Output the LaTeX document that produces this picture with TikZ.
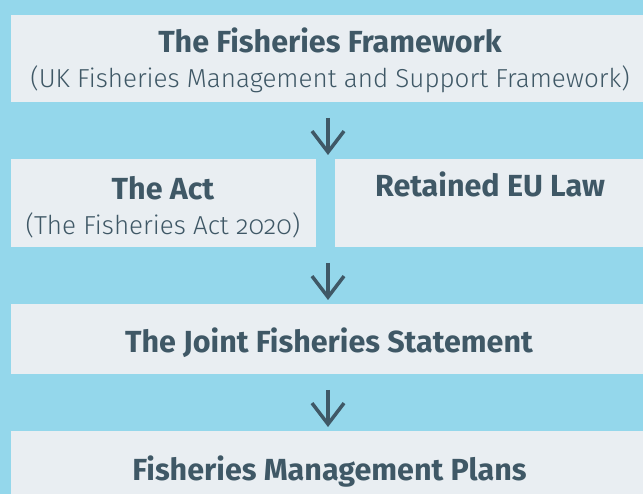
\documentclass[tikz,border=0pt]{standalone}
\usepackage{fontspec}
\setmainfont{Fira Sans}
\newfontfamily\lightfont[Numbers=OldStyle]{Fira Sans Light}
\usetikzlibrary{arrows.meta}
\definecolor{bgblue}{HTML}{94D7EB}
\definecolor{boxfill}{HTML}{E9EEF2}
\definecolor{ink}{HTML}{3F5866}
\tikzset{
  box/.style={fill=boxfill, draw=none, inner sep=0pt, anchor=north west},
  ttl/.style={text=ink, font=\bfseries\fontsize{30.5}{34}\selectfont, anchor=base, inner sep=0pt},
  sub/.style={text=ink, font=\lightfont\fontsize{26}{30}\selectfont, anchor=base, inner sep=0pt},
  flow/.style={draw=ink, line width=3.5pt, -{Straight Barb[length=21pt, width=32pt, line width=3.5pt]}}
}
\begin{document}
\begin{tikzpicture}[x=1pt,y=-1pt]
\fill[bgblue] (0,0) rectangle (643,494);
\useasboundingbox (0,0) rectangle (643,494);
\node[box, minimum width=632pt, minimum height=87pt] (fw) at (11,15) {};
\node[box, minimum width=305pt, minimum height=88pt] (act) at (11,159) {};
\node[box, minimum width=308pt, minimum height=88pt] (eu) at (335,159) {};
\node[box, minimum width=632pt, minimum height=70pt] (jfs) at (11,304) {};
\node[box, minimum width=632pt, minimum height=63pt] (fmp) at (11,431) {};
\node[ttl] (t1) at (330,53) {The Fisheries Framework};
\node[sub] (s1) at (330,88) {(UK Fisheries Management and Support Framework)};
\node[ttl] (t2) at (163,200) {The Act};
\node[sub] (s2) at (163,235) {(The Fisheries Act {\addfontfeatures{Numbers=OldStyle}2020})};
\node[ttl] (t3) at (490,197) {Retained EU Law};
\node[ttl] (t4) at (329,353) {The Joint Fisheries Statement};
\node[ttl] (t5) at (329.5,480) {Fisheries Management Plans};
\coordinate (a1s) at (328,118);
\coordinate (a1e) at (328,155);
\draw[flow] (a1s) -- (a1e);
\coordinate (a2s) at (328,263);
\coordinate (a2e) at (328,300);
\draw[flow] (a2s) -- (a2e);
\coordinate (a3s) at (328,390);
\coordinate (a3e) at (328,427);
\draw[flow] (a3s) -- (a3e);
\end{tikzpicture}
\end{document}
